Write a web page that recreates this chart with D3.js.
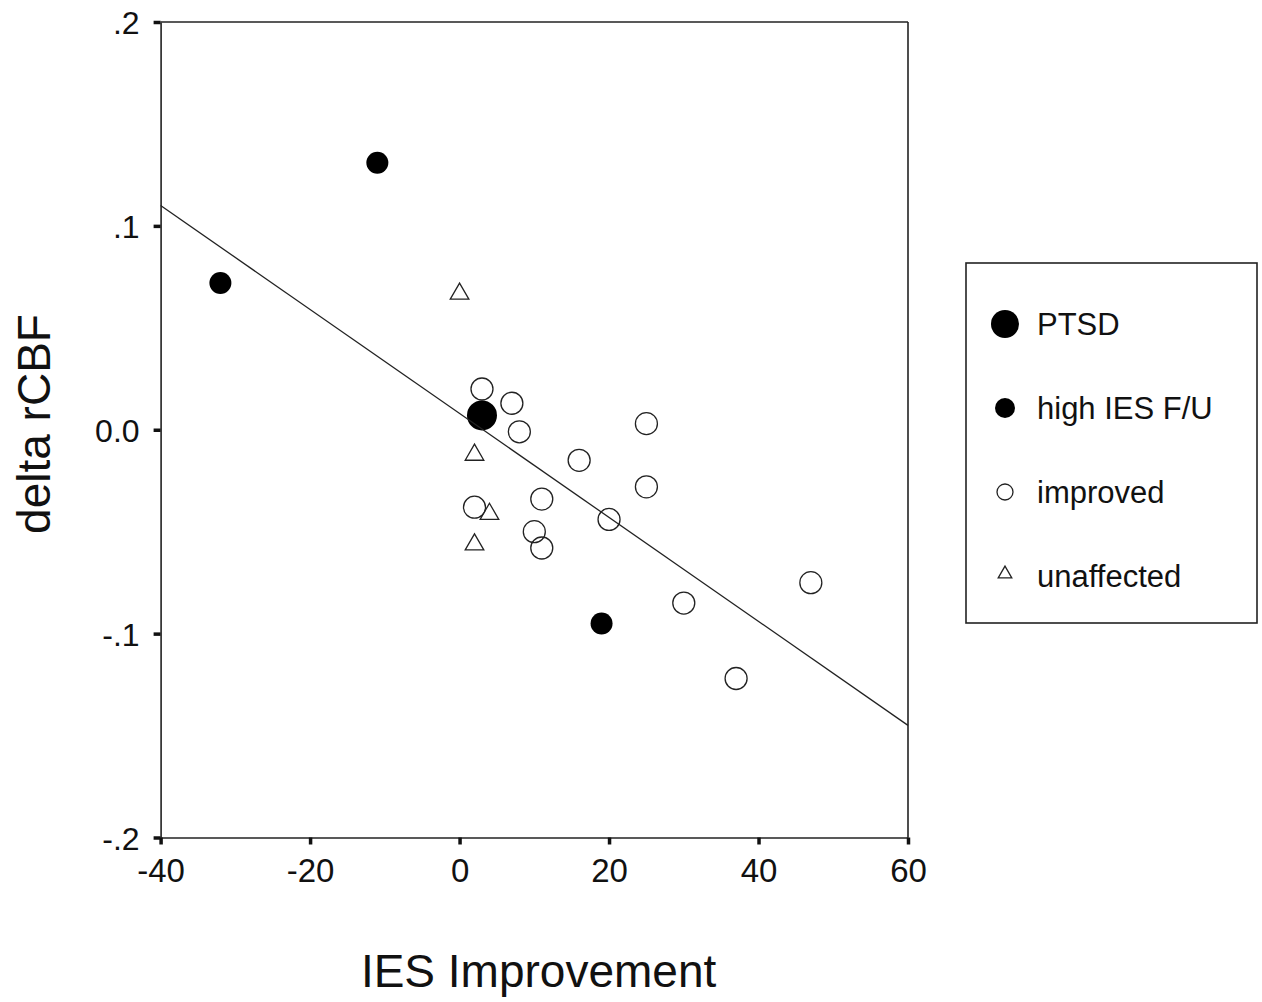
<!DOCTYPE html>
<html>
<head>
<meta charset="utf-8">
<script src="https://cdn.jsdelivr.net/npm/d3@7"></script>
<style>
  body { margin: 0; background: #fff; }
  text { font-family: Arial, "Liberation Sans", sans-serif; fill: #111; }
</style>
</head>
<body>
<svg id="chart" width="1262" height="1002"></svg>
<script>
// values
var ptsdX = [3],
    ptsdY = [0.007];
var highX = [-32, -11, 19],
    highY = [0.072, 0.131, -0.095];
var improvedX = [3, 7, 8, 25, 16, 25, 2, 11, 20, 10, 11, 30, 47, 37],
    improvedY = [0.020, 0.013, -0.001, 0.003, -0.015, -0.028, -0.038, -0.034, -0.044, -0.050, -0.058, -0.085, -0.075, -0.122];
var unaffectedX = [0, 2, 4, 2],
    unaffectedY = [0.068, -0.011, -0.040, -0.055];
// fit line end points
var fitX = [-40, 60],
    fitY = [0.110, -0.145];

var xTicks = [-40, -20, 0, 20, 40, 60];
var xTickLabels = ["-40", "-20", "0", "20", "40", "60"];
var yTicks = [-0.2, -0.1, 0, 0.1, 0.2];
var yTickLabels = ["-.2", "-.1", "0.0", ".1", ".2"];
var legendLabels = ["PTSD", "high IES F/U", "improved", "unaffected"];

var svg = d3.select("#chart"),
    margin = {top: 22, left: 160.6, right: 354, bottom: 164.5},
    width = +svg.attr("width") - margin.left - margin.right,
    height = +svg.attr("height") - margin.top - margin.bottom,
    g = svg.append("g").attr("transform", "translate(" + margin.left + "," + margin.top + ")");

var x = d3.scaleLinear().domain([-40, 60]).range([0, width]);
var y = d3.scaleLinear().domain([-0.2, 0.2]).range([height, 0]);

// triangle centred on its box, like the SPSS marker
var boxTriangle = {
  draw: function(context, size) {
    var w = Math.sqrt(size * 4 / Math.sqrt(3)), h = w * Math.sqrt(3) / 2;
    context.moveTo(0, -h / 2);
    context.lineTo(w / 2, h / 2);
    context.lineTo(-w / 2, h / 2);
    context.closePath();
  }
};

function pairs(xs, ys) {
  return xs.map(function(v, i) { return [v, ys[i]]; });
}

// frame
g.append("line").attr("x1", 0).attr("x2", width).attr("y1", 0).attr("y2", 0)
  .attr("stroke", "#222").attr("stroke-width", 1.6);
g.append("line").attr("x1", width).attr("x2", width).attr("y1", 0).attr("y2", height)
  .attr("stroke", "#222").attr("stroke-width", 1.6);

var xAxis = g.append("g").attr("transform", "translate(0," + height + ")")
  .call(d3.axisBottom(x).tickValues(xTicks).tickSize(7).tickPadding(14).tickSizeOuter(0)
    .tickFormat(function(d, i) { return xTickLabels[i]; }));
var yAxis = g.append("g")
  .call(d3.axisLeft(y).tickValues(yTicks).tickSize(7).tickPadding(14).tickSizeOuter(0)
    .tickFormat(function(d, i) { return yTickLabels[i]; }));

[xAxis, yAxis].forEach(function(a) {
  a.select(".domain").attr("stroke", "#222").attr("stroke-width", 1.6);
  a.selectAll(".tick line").attr("stroke", "#111").attr("stroke-width", 3.5);
  a.selectAll(".tick text").attr("fill", "#111")
    .style("font-family", "Arial, 'Liberation Sans', sans-serif");
});
xAxis.selectAll(".tick text").style("font-size", "33px");
yAxis.selectAll(".tick text").style("font-size", "32px").attr("dy", "0.36em");

// points
g.selectAll(".improved").data(pairs(improvedX, improvedY)).enter().append("circle")
  .attr("class", "improved")
  .attr("cx", function(d) { return x(d[0]); })
  .attr("cy", function(d) { return y(d[1]); })
  .attr("r", 11).attr("fill", "none").attr("stroke", "#222").attr("stroke-width", 1.3);

g.selectAll(".unaffected").data(pairs(unaffectedX, unaffectedY)).enter().append("path")
  .attr("class", "unaffected")
  .attr("d", d3.symbol().type(boxTriangle).size(150))
  .attr("transform", function(d) { return "translate(" + x(d[0]) + "," + y(d[1]) + ")"; })
  .attr("fill", "none").attr("stroke", "#222").attr("stroke-width", 1.3);

g.selectAll(".high").data(pairs(highX, highY)).enter().append("circle")
  .attr("class", "high")
  .attr("cx", function(d) { return x(d[0]); })
  .attr("cy", function(d) { return y(d[1]); })
  .attr("r", 11).attr("fill", "#000");

g.selectAll(".ptsd").data(pairs(ptsdX, ptsdY)).enter().append("circle")
  .attr("class", "ptsd")
  .attr("cx", function(d) { return x(d[0]); })
  .attr("cy", function(d) { return y(d[1]); })
  .attr("r", 15).attr("fill", "#000");

// fit line
g.append("path").datum(pairs(fitX, fitY))
  .attr("d", d3.line().x(function(d) { return x(d[0]); }).y(function(d) { return y(d[1]); }))
  .attr("stroke", "#222").attr("stroke-width", 1.3).attr("fill", "none");

// axis titles
svg.append("text").attr("x", margin.left + x(-40) + 378).attr("y", 987)
  .attr("text-anchor", "middle").style("font-size", "46px").text("IES Improvement");
svg.append("text").attr("transform", "translate(50,424) rotate(-90)")
  .attr("text-anchor", "middle").style("font-size", "46px").text("delta rCBF");

// legend
var legend = svg.append("g").attr("transform", "translate(966,263)");
legend.append("rect").attr("width", 291).attr("height", 360)
  .attr("fill", "#fff").attr("stroke", "#222").attr("stroke-width", 1.6);

var item = legend.selectAll(".item").data(legendLabels).enter().append("g")
  .attr("class", "item")
  .attr("transform", function(d, i) { return "translate(0," + (61 + i * 84) + ")"; });

item.append("text").attr("x", 71).attr("dy", "0.36em")
  .style("font-size", "31px").text(function(d) { return d; });

item.filter(function(d, i) { return i < 3; }).append("circle")
  .attr("cx", 39)
  .attr("r", function(d, i) { return [14, 10, 8][i]; })
  .attr("fill", function(d, i) { return i < 2 ? "#000" : "none"; })
  .attr("stroke", "#222").attr("stroke-width", function(d, i) { return i < 2 ? 0 : 1.3; });

item.filter(function(d, i) { return i == 3; }).append("path")
  .attr("d", d3.symbol().type(boxTriangle).size(80))
  .attr("transform", "translate(39,-4)")
  .attr("fill", "none").attr("stroke", "#222").attr("stroke-width", 1.3);
</script>
</body>
</html>
